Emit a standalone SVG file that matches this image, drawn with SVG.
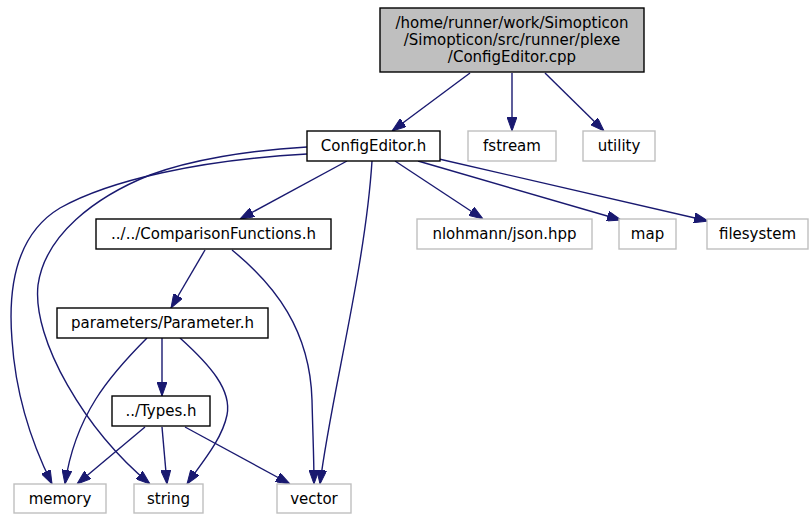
<svg xmlns="http://www.w3.org/2000/svg" width="809" height="514" viewBox="0 0 809 514">
<defs>
<style>
.n rect{fill:#ffffff;stroke:#000000;stroke-width:1.4}
.n.g rect{stroke:#bfbfbf}
.n.root rect{fill:#bfbfbf}
text{font-family:"DejaVu Sans","Liberation Sans",sans-serif;font-size:15px;fill:#000000;text-anchor:middle}
.e path{fill:none;stroke:#191970;stroke-width:1.4;marker-end:url(#ah)}
</style>
<marker id="ah" viewBox="0 0 14 10" refX="14" refY="5" markerWidth="14" markerHeight="10" markerUnits="userSpaceOnUse" orient="auto">
<path d="M0,0 L14,5 L0,10 z" fill="#191970" stroke="#191970" stroke-width="1"/>
</marker>
</defs>
<rect width="809" height="514" fill="#ffffff"/>
<g class="e" id="edges">
<path d="M470,73 L392,131"/>
<path d="M512,73 L512,131"/>
<path d="M545,73 L604,131"/>
<path d="M307,154 C200,160 110,180 60,208 C15,235 8,290 12,340 C16,400 35,450 52,484"/>
<path d="M307,147 C250,150 190,160 150,175 C95,197 45,235 38,285 C32,340 85,430 150,484"/>
<path d="M347,161 L240,219"/>
<path d="M372,161 C365,270 330,400 320,484"/>
<path d="M232,250 C275,285 310,330 312,400 C313,440 314,460 314,484"/>
<path d="M205,250 L171,308"/>
<path d="M147,338 C110,375 75,415 65,484"/>
<path d="M162,338 L162,396"/>
<path d="M180,338 C210,365 232,390 227,415 C222,440 200,465 187,484"/>
<path d="M145,427 L77,484"/>
<path d="M162,427 L167,484"/>
<path d="M185,427 L290,484"/>
<path d="M395,161 L483,219"/>
<path d="M418,161 L621,220"/>
<path d="M439,159 L708,221"/>
</g>
<g class="n root" id="node_cpp">
<rect x="380" y="8" width="264" height="64"/>
<text x="512" y="28">/home/runner/work/Simopticon</text>
<text x="512" y="45">/Simopticon/src/runner/plexe</text>
<text x="512" y="62">/ConfigEditor.cpp</text>
</g>
<g class="n" id="node_ConfigEditor_h">
<rect x="307" y="131" width="133" height="30"/>
<text x="373.5" y="151">ConfigEditor.h</text>
</g>
<g class="n g" id="node_fstream">
<rect x="468" y="131" width="88" height="30"/>
<text x="512" y="151">fstream</text>
</g>
<g class="n g" id="node_utility">
<rect x="583" y="131" width="72" height="30"/>
<text x="619" y="151">utility</text>
</g>
<g class="n" id="node_ComparisonFunctions">
<rect x="96" y="219" width="235" height="30"/>
<text x="213.5" y="239">../../ComparisonFunctions.h</text>
</g>
<g class="n g" id="node_json">
<rect x="417" y="219" width="175" height="30"/>
<text x="504.5" y="239">nlohmann/json.hpp</text>
</g>
<g class="n g" id="node_map">
<rect x="619" y="219" width="57" height="30"/>
<text x="647.5" y="239">map</text>
</g>
<g class="n g" id="node_filesystem">
<rect x="707" y="219" width="101" height="30"/>
<text x="757.5" y="239">filesystem</text>
</g>
<g class="n" id="node_Parameter">
<rect x="57" y="308" width="211" height="30"/>
<text x="162.5" y="328">parameters/Parameter.h</text>
</g>
<g class="n" id="node_Types">
<rect x="112" y="396" width="98" height="30"/>
<text x="161" y="416">../Types.h</text>
</g>
<g class="n g" id="node_memory">
<rect x="14" y="484" width="92" height="29"/>
<text x="60" y="504">memory</text>
</g>
<g class="n g" id="node_string">
<rect x="134" y="484" width="69" height="29"/>
<text x="168.5" y="504">string</text>
</g>
<g class="n g" id="node_vector">
<rect x="277" y="484" width="74" height="29"/>
<text x="314" y="504">vector</text>
</g>
</svg>
